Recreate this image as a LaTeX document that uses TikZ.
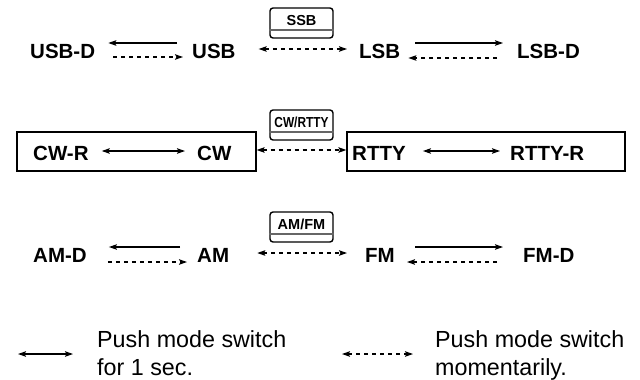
\documentclass[tikz,border=0pt]{standalone}
\usepackage{fontspec}
\setmainfont{Liberation Sans}
\usetikzlibrary{arrows.meta}
\begin{document}
\begin{tikzpicture}[x=1pt,y=-1pt,
  lbl/.style={font=\fontsize{20.5}{24}\selectfont\bfseries, inner sep=0pt, anchor=base west},
  keybox/.style={draw, line width=1.4pt, rounded corners=3pt, minimum width=63pt, minimum height=30pt, inner sep=0pt},
  keylbl/.style={font=\fontsize{14.5}{16}\selectfont\bfseries, inner sep=0pt, anchor=base},
  keyline/.style={line width=1.2pt, black!60},
  modebox/.style={draw, line width=1.2pt, inner sep=0pt, minimum height=39pt},
  tiphead/.tip={Stealth[length=8pt,width=5.5pt,inset=1.5pt]},
  sol/.style={line width=1.2pt, -tiphead},
  dsh/.style={line width=1.2pt, dash pattern=on 4pt off 4pt, -tiphead},
  solboth/.style={line width=1.2pt, tiphead-tiphead},
  dshboth/.style={line width=1.2pt, dash pattern=on 4pt off 4pt, tiphead-tiphead},
  legtxt/.style={font=\fontsize{23.3}{28}\selectfont, inner sep=0pt, anchor=base west}]
\useasboundingbox (0,0) rectangle (640,380);

% ---------- key boxes ----------
\node[keybox] (ssbk) at (301.5,23) {};
\draw[keyline] ([yshift=-7pt]ssbk.west) -- ([yshift=-7pt]ssbk.east);
\node[keylbl] (ssbt) at (301.5,25) {SSB};

\node[keybox] (cwk) at (301.5,125) {};
\draw[keyline] ([yshift=-7pt]cwk.west) -- ([yshift=-7pt]cwk.east);
\node[keylbl] (cwt) at (301.5,127) {\scalebox{0.82}[1]{CW/RTTY}};

\node[keybox] (amk) at (301.5,227) {};
\draw[keyline] ([yshift=-7pt]amk.west) -- ([yshift=-7pt]amk.east);
\node[keylbl] (amt) at (301.5,229) {AM/FM};

% ---------- row 1 ----------
\node[lbl] (usbd) at (30,58) {USB-D};
\node[lbl] (usb) at (192,58) {USB};
\node[lbl] (lsb) at (359,58) {LSB};
\node[lbl] (lsbd) at (517,58) {LSB-D};

\draw[sol] ([xshift=-15pt,yshift=15pt]usb.base west) -- ([xshift=13pt,yshift=15pt]usbd.base east);
\draw[dsh] ([xshift=18pt,yshift=1pt]usbd.base east) -- ([xshift=-9pt,yshift=1pt]usb.base west);
\draw[dshboth] ([xshift=23pt,yshift=9pt]usb.base east) -- ([xshift=-12pt,yshift=9pt]lsb.base west);
\draw[sol] ([xshift=15pt,yshift=15pt]lsb.base east) -- ([xshift=-14pt,yshift=15pt]lsbd.base west);
\draw[dsh] ([xshift=-20pt,yshift=0pt]lsbd.base west) -- ([xshift=8pt,yshift=0pt]lsb.base east);

% ---------- row 2 ----------
\node[modebox, minimum width=239pt] (lbox) at (136.5,151.5) {};
\node[modebox, minimum width=278pt] (rbox) at (486,151.5) {};
\node[lbl] (cwr) at (33,160) {CW-R};
\node[lbl] (cw) at (197,160) {CW};
\node[lbl] (rtty) at (352,160) {RTTY};
\node[lbl] (rttyr) at (510,160) {RTTY-R};

\draw[solboth] ([xshift=13pt,yshift=9pt]cwr.base east) -- ([xshift=-12pt,yshift=9pt]cw.base west);
\draw[solboth] ([xshift=17pt,yshift=9pt]rtty.base east) -- ([xshift=-10pt,yshift=9pt]rttyr.base west);
\draw[dshboth] ([yshift=1.5pt]lbox.east) -- ([yshift=1.5pt]rbox.west);

% ---------- row 3 ----------
\node[lbl] (amd) at (33,262) {AM-D};
\node[lbl] (am) at (197,262) {AM};
\node[lbl] (fm) at (365,262) {FM};
\node[lbl] (fmd) at (523,262) {FM-D};

\draw[sol] ([xshift=-17pt,yshift=15pt]am.base west) -- ([xshift=22pt,yshift=15pt]amd.base east);
\draw[dsh] ([xshift=21pt,yshift=0pt]amd.base east) -- ([xshift=-10pt,yshift=0pt]am.base west);
\draw[dshboth] ([xshift=28pt,yshift=9pt]am.base east) -- ([xshift=-18pt,yshift=9pt]fm.base west);
\draw[sol] ([xshift=20pt,yshift=15pt]fm.base east) -- ([xshift=-20pt,yshift=15pt]fmd.base west);
\draw[dsh] ([xshift=-26pt,yshift=0pt]fmd.base west) -- ([xshift=12pt,yshift=0pt]fm.base east);

% ---------- legend ----------
\coordinate (l1a) at (18,354);
\coordinate (l1b) at (73,354);
\draw[solboth] (l1a) -- (l1b);
\node[legtxt] (l1t1) at (97,347) {Push mode switch};
\node[legtxt] (l1t2) at (97,375) {for 1 sec.};

\coordinate (l2a) at (342,354);
\coordinate (l2b) at (413,354);
\draw[dshboth] (l2a) -- (l2b);
\node[legtxt] (l2t1) at (435,347) {Push mode switch};
\node[legtxt] (l2t2) at (435,375) {momentarily.};
\end{tikzpicture}
\end{document}
